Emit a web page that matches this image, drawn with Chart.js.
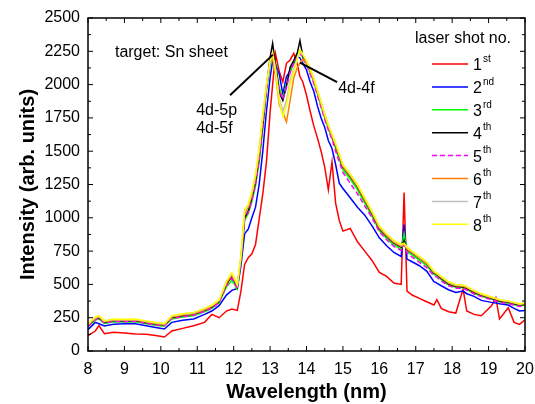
<!DOCTYPE html>
<html>
<head>
<meta charset="utf-8">
<title>Sn sheet spectra</title>
<style>
  body { margin: 0; background: #fff; }
  #wrap { width: 535px; height: 404px; }
</style>
</head>
<body>
<div id="wrap"><canvas id="spectra"></canvas></div>

<script src="https://cdn.jsdelivr.net/npm/chart.js@4.4.1/dist/chart.umd.min.js"></script>
<script>

// wavelength grid (nm), denser around peaks and spikes
const wavelength = [
  8.0, 8.2, 8.3, 8.45, 8.7, 9.0, 9.3, 9.6, 9.9, 10.1,
  10.3, 10.6, 10.9, 11.2, 11.4, 11.6, 11.8, 11.95, 12.1, 12.2,
  12.3, 12.4, 12.5, 12.6, 12.7, 12.8, 12.9, 13.0, 13.07, 13.15,
  13.25, 13.35, 13.45, 13.55, 13.65, 13.75, 13.82, 13.9, 14.0, 14.1,
  14.2, 14.3, 14.4, 14.5, 14.6, 14.7, 14.8, 14.9, 15.0, 15.2,
  15.4, 15.6, 15.8, 16.0, 16.2, 16.4, 16.6, 16.68, 16.76, 16.9,
  17.1, 17.3, 17.5, 17.58, 17.7, 17.9, 18.1, 18.3, 18.4, 18.6,
  18.8, 19.08, 19.2, 19.3, 19.54, 19.7, 19.85, 20.0
];

const shot1 = [
  115, 150, 190, 130, 140, 135, 128, 125, 115, 105,
  150, 170, 190, 215, 275, 250, 300, 315, 305, 450,
  650, 700, 730, 800, 990, 1180, 1420, 1790, 2000, 2230,
  2100, 2020, 2160, 2185, 2235, 2150, 2060, 2020, 1920, 1800,
  1690, 1600, 1500, 1380, 1210, 1420, 1110, 980, 900, 920,
  820, 750, 680, 590, 560, 510, 500, 1190, 450, 420,
  395, 370, 345, 385, 320, 295, 285, 465, 300, 275,
  265, 340, 400, 240, 325, 215, 200, 235
];

const shot2 = [
  160, 215, 205, 188, 200, 205, 205, 190, 175, 165,
  215, 230, 240, 275, 300, 340, 420, 455, 470, 640,
  880, 915, 1000, 1080, 1250, 1500, 1800, 2050, 2180, 2150,
  2080, 1930, 2060, 2100, 2160, 2210, 2200, 2160, 2110, 2020,
  1950, 1840, 1750, 1680, 1580, 1520, 1400, 1260, 1220, 1150,
  1080, 1020, 940, 850, 790, 740, 710, 950, 690, 670,
  640, 600, 520, 510, 490, 460, 440, 450, 430, 410,
  380, 365, 360, 355, 345, 320, 300, 305
];

const shot3 = [
  180, 232, 240, 205, 220, 218, 220, 205, 192, 186,
  240, 255, 265, 295, 320, 360, 480, 530, 465, 670,
  980, 1030, 1120, 1240, 1420, 1670, 1950, 2150, 2230, 2160,
  1980, 1900, 2000, 2100, 2170, 2220, 2250, 2200, 2160, 2090,
  2020, 1930, 1840, 1750, 1670, 1600, 1520, 1440, 1360, 1290,
  1210, 1110, 1010, 905, 845, 795, 765, 880, 745, 720,
  680, 640, 575, 565, 535, 495, 478, 475, 462, 432,
  412, 388, 378, 368, 358, 348, 338, 345
];

const shot4 = [
  190, 240, 250, 215, 228, 225, 228, 212, 200, 195,
  250, 265, 275, 305, 330, 370, 500, 560, 480, 690,
  1000, 1050, 1150, 1270, 1450, 1700, 1980, 2200, 2310, 2150,
  1940, 1880, 1990, 2130, 2180, 2240, 2330, 2210, 2170, 2110,
  2040, 1950, 1860, 1770, 1690, 1610, 1540, 1460, 1380, 1310,
  1230, 1130, 1030, 920, 860, 810, 780, 830, 760, 735,
  695, 655, 585, 575, 545, 505, 485, 480, 470, 440,
  420, 395, 385, 375, 365, 355, 345, 350
];

const shot5 = [
  185, 235, 245, 210, 222, 220, 222, 208, 195, 190,
  245, 258, 268, 298, 322, 362, 490, 545, 470, 680,
  990, 1040, 1130, 1250, 1430, 1680, 1960, 2160, 2250, 2140,
  1960, 1890, 1980, 2090, 2160, 2210, 2240, 2190, 2150, 2080,
  2010, 1920, 1830, 1740, 1660, 1590, 1500, 1420, 1340, 1260,
  1180, 1090, 1000, 895, 835, 785, 755, 800, 735, 705,
  665, 625, 565, 555, 525, 490, 472, 470, 458, 428,
  408, 385, 375, 365, 355, 345, 335, 342
];

const shot6 = [
  195, 245, 255, 220, 232, 230, 232, 218, 205, 200,
  255, 270, 280, 310, 335, 375, 510, 570, 490, 700,
  1030, 1080, 1170, 1300, 1490, 1740, 1990, 2170, 2190, 2080,
  1850, 1790, 1720, 1880, 2050, 2130, 2160, 2190, 2160, 2100,
  2030, 1945, 1855, 1765, 1685, 1615, 1545, 1465, 1385, 1315,
  1235, 1135, 1035, 925, 865, 815, 785, 800, 765, 738,
  698, 658, 590, 578, 550, 510, 490, 486, 476, 446,
  424, 400, 390, 380, 370, 360, 350, 355
];

const shot7 = [
  200, 250, 260, 224, 236, 234, 236, 222, 208, 203,
  260, 276, 286, 316, 340, 380, 525, 580, 495, 710,
  1045, 1090, 1185, 1315, 1505, 1760, 1990, 2170, 2220, 2120,
  1900, 1800, 1880, 2030, 2120, 2200, 2240, 2220, 2175, 2115,
  2045, 1955, 1865, 1775, 1695, 1625, 1555, 1475, 1395, 1325,
  1245, 1145, 1045, 935, 875, 825, 795, 805, 775, 745,
  705, 665, 596, 582, 556, 516, 496, 492, 482, 452,
  428, 403, 393, 383, 373, 363, 353, 358
];

const shot8 = [
  205, 255, 265, 228, 240, 238, 240, 225, 212, 206,
  265, 280, 290, 320, 345, 385, 520, 590, 500, 720,
  1060, 1100, 1200, 1330, 1520, 1780, 2000, 2180, 2240, 2100,
  1880, 1760, 1840, 2000, 2100, 2200, 2260, 2230, 2180, 2120,
  2050, 1960, 1870, 1780, 1700, 1630, 1560, 1480, 1400, 1330,
  1250, 1150, 1050, 940, 880, 830, 800, 810, 780, 750,
  710, 670, 600, 585, 560, 520, 500, 495, 485, 455,
  430, 405, 395, 385, 375, 365, 355, 360
];

const shotNumbers = ['1', '2', '3', '4', '5', '6', '7', '8'];
const shotSuffixes = ['st', 'nd', 'rd', 'th', 'th', 'th', 'th', 'th'];
const shotColors = ['#ff0000', '#0000ff', '#00ff00', '#000000', '#ff00ff', '#ff8000', '#c0c0c0', '#ffff00'];
const allShots = [shot1, shot2, shot3, shot4, shot5, shot6, shot7, shot8];

const FONT = 'Arial, "Liberation Sans", sans-serif';


// frame, inward ticks, annotations and the legend
const decorations = {
  id: 'decorations',
  afterDraw(chart) {
    const ctx = chart.ctx;
    const area = chart.chartArea;
    const xs = chart.scales.x;
    const ys = chart.scales.y;

    ctx.save();
    ctx.strokeStyle = '#000';
    ctx.lineWidth = 1.5;
    ctx.strokeRect(area.left, area.top, area.right - area.left, area.bottom - area.top);

    ctx.lineWidth = 1;
    ctx.beginPath();
    const xt = xs.ticks.map(t => t.value);
    xt.forEach((v, i) => {
      const px = xs.getPixelForValue(v);
      ctx.moveTo(px, area.bottom); ctx.lineTo(px, area.bottom - 5);
      ctx.moveTo(px, area.top); ctx.lineTo(px, area.top + 5);
      if (i < xt.length - 1) {
        const mx = xs.getPixelForValue((v + xt[i + 1]) / 2);
        ctx.moveTo(mx, area.bottom); ctx.lineTo(mx, area.bottom - 3);
        ctx.moveTo(mx, area.top); ctx.lineTo(mx, area.top + 3);
      }
    });
    const yt = ys.ticks.map(t => t.value);
    yt.forEach((v, i) => {
      const py = ys.getPixelForValue(v);
      ctx.moveTo(area.left, py); ctx.lineTo(area.left + 5, py);
      ctx.moveTo(area.right, py); ctx.lineTo(area.right - 5, py);
      if (i < yt.length - 1) {
        const my = ys.getPixelForValue((v + yt[i + 1]) / 2);
        ctx.moveTo(area.left, my); ctx.lineTo(area.left + 3, my);
        ctx.moveTo(area.right, my); ctx.lineTo(area.right - 3, my);
      }
    });
    ctx.stroke();

    // pointer lines to the peaks
    ctx.lineWidth = 2;
    ctx.beginPath();
    ctx.moveTo(xs.getPixelForValue(11.9), ys.getPixelForValue(1920));
    ctx.lineTo(xs.getPixelForValue(13.08), ys.getPixelForValue(2225));
    ctx.moveTo(xs.getPixelForValue(13.82), ys.getPixelForValue(2165));
    ctx.lineTo(xs.getPixelForValue(14.84), ys.getPixelForValue(2018));
    ctx.stroke();

    ctx.fillStyle = '#000';
    ctx.font = '16px ' + FONT;
    ctx.textBaseline = 'middle';
    ctx.textAlign = 'left';
    ctx.fillText('target: Sn sheet', xs.getPixelForValue(8.74), ys.getPixelForValue(2244));
    ctx.fillText('4d-5p', xs.getPixelForValue(10.97), ys.getPixelForValue(1807));
    ctx.fillText('4d-5f', xs.getPixelForValue(10.97), ys.getPixelForValue(1672));
    ctx.fillText('4d-4f', xs.getPixelForValue(14.87), ys.getPixelForValue(1973));

    // legend
    ctx.fillText('laser shot no.', 415, 39);
    chart.data.datasets.forEach((ds, i) => {
      const y = 64 + i * 22.9;
      ctx.strokeStyle = ds.borderColor;
      ctx.lineWidth = 1.5;
      ctx.setLineDash(ds.borderDash || []);
      ctx.beginPath();
      ctx.moveTo(432, y); ctx.lineTo(468, y);
      ctx.stroke();
      ctx.setLineDash([]);
      ctx.font = '16px ' + FONT;
      ctx.fillText(shotNumbers[i], 473, y + 2);
      const w = ctx.measureText(shotNumbers[i]).width;
      ctx.font = '10px ' + FONT;
      ctx.fillText(shotSuffixes[i], 473 + w + 1, y - 5);
    });
    ctx.restore();
  }
};

const datasets = allShots.map((shot, i) => ({
  label: shotNumbers[i] + shotSuffixes[i],
  data: wavelength.map((w, j) => ({ x: w, y: shot[j] })),
  borderColor: shotColors[i],
  backgroundColor: shotColors[i],
  borderWidth: 1.5,
  borderDash: i === 4 ? [5, 3] : undefined,
  pointRadius: 0,
  tension: 0,
  order: 8 - i,
}));

new Chart(document.getElementById('spectra'), {
  type: 'line',
  data: { datasets },
  options: {
    responsive: true,
    maintainAspectRatio: false,
    animation: false,
    layout: { padding: { left: 0, right: 10, top: 18, bottom: 0 } },
    plugins: { legend: { display: false }, tooltip: { enabled: false } },
    scales: {
      x: {
        type: 'linear',
        min: 8,
        max: 20,
        grid: { display: false, drawTicks: false },
        border: { display: false },
        ticks: { stepSize: 1, autoSkip: false, maxRotation: 0, color: '#000', padding: 9, font: { size: 16, family: FONT } },
        title: { display: true, text: 'Wavelength (nm)', color: '#000', padding: { top: 1, bottom: 0 }, font: { size: 20, weight: 'bold', family: FONT } },
        afterFit: s => { s.height = 53; s.paddingLeft = 0; s.paddingRight = 0; },
      },
      y: {
        min: 0,
        max: 2500,
        grid: { display: false, drawTicks: false },
        border: { display: false },
        ticks: { stepSize: 250, autoSkip: false, color: '#000', padding: 8, font: { size: 16, family: FONT }, callback: v => String(v) },
        title: { display: true, text: 'Intensity (arb. units)', color: '#000', padding: { top: 16, bottom: 0 }, font: { size: 20, weight: 'bold', family: FONT } },
        afterFit: s => { s.width = 88; },
      },
    },
  },
  plugins: [decorations],
});

</script>
</body>
</html>
